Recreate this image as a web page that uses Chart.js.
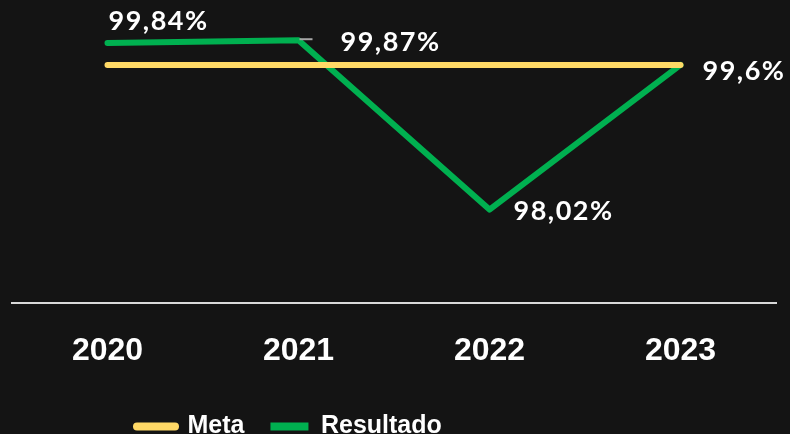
<!DOCTYPE html>
<html>
<head>
<meta charset="utf-8">
<script src="https://cdn.jsdelivr.net/npm/chart.js@4.4.0/dist/chart.umd.min.js"></script>
<style>
  html, body { margin: 0; padding: 0; background: #141414; overflow: hidden; }
  #wrap { width: 790px; height: 449px; position: relative; }
</style>
</head>
<body>
<div id="wrap"><canvas id="chart"></canvas></div>
<script>
// data
const years = ['2020', '2021', '2022', '2023'];
const meta = [99.6, 99.6, 99.6, 99.6];
const resultado = [99.84, 99.87, 98.02, 99.6];
const resultadoLabels = ['99,84%', '99,87%', '98,02%', '99,6%'];

// where each value label sits relative to its point (dx, dy)
const labelOffsets = [[1, -22], [42, 2], [24, 2], [22, 6]];
const narrow = '"Liberation Sans", Arial, sans-serif';

const valueLabels = {
    id: 'valueLabels',
    afterDatasetsDraw(chart) {
        const ctx = chart.ctx;
        const pts = chart.getDatasetMeta(1).data;
        ctx.save();
        // small leader tick next to the 2021 point
        ctx.strokeStyle = '#a6a6a6';
        ctx.lineWidth = 2;
        ctx.beginPath();
        ctx.moveTo(pts[1].x + 1, pts[1].y - 1);
        ctx.lineTo(pts[1].x + 14, pts[1].y - 1);
        ctx.stroke();

        ctx.fillStyle = '#ffffff';
        ctx.font = 'bold 27px Lato, "DejaVu Sans", sans-serif';
        ctx.letterSpacing = '1.5px';
        ctx.textAlign = 'left';
        ctx.textBaseline = 'middle';
        pts.forEach((p, i) => {
            const off = labelOffsets[i];
            ctx.fillText(resultadoLabels[i], p.x + off[0], p.y + off[1]);
        });
        ctx.restore();
    }
};

const bg = {
    id: 'bg',
    beforeDraw(chart) {
        const ctx = chart.ctx;
        ctx.save();
        ctx.fillStyle = '#141414';
        ctx.fillRect(0, 0, chart.width, chart.height);
        ctx.restore();
    }
};

// legend in the original sits left of centre with wider gaps
const legendPlace = {
    id: 'legendPlace',
    afterLayout(chart) {
        const lg = chart.legend;
        lg.options.labels.padding = 26;
        lg.left = 137 - 26;
        lg.top = 426 - 12 - 26;
    }
};

new Chart(document.getElementById('chart'), {
    type: 'line',
    data: {
        labels: years,
        datasets: [
            { label: 'Meta', data: meta, borderColor: '#FFD966', backgroundColor: '#FFD966', borderWidth: 6, borderCapStyle: 'round', pointRadius: 0, pointStyle: 'line', tension: 0 },
            { label: 'Resultado', data: resultado, borderColor: '#00B050', backgroundColor: '#00B050', borderWidth: 6, borderCapStyle: 'round', borderJoinStyle: 'round', pointRadius: 0, pointStyle: 'line', tension: 0 }
        ]
    },
    options: {
        responsive: true, maintainAspectRatio: false, animation: false,
        layout: { padding: { left: 12, right: 14, top: 10, bottom: 0 } },
        scales: {
            x: {
                offset: true,
                grid: { display: false, drawTicks: false },
                border: { display: true, color: '#d9d9d9', width: 2 },
                ticks: { color: '#ffffff', padding: 32, font: { family: narrow, size: 32, weight: 'bold', lineHeight: 1 } }
            },
            y: { display: false, min: 97, max: 100.2 }
        },
        plugins: {
            tooltip: { enabled: false },
            legend: {
                position: 'bottom',
                align: 'start',
                labels: {
                    color: '#ffffff', usePointStyle: true, pointStyle: 'line', pointStyleWidth: 38, padding: 15,
                    font: { family: narrow, size: 25, weight: 'bold' },
                    generateLabels(chart) {
                        const items = Chart.defaults.plugins.legend.labels.generateLabels(chart);
                        items.forEach(it => {
                            it.lineWidth = 8;
                            it.lineCap = it.datasetIndex === 0 ? 'round' : 'butt';
                        });
                        return items;
                    }
                }
            }
        }
    },
    plugins: [bg, legendPlace, valueLabels]
});
</script>
</body>
</html>
